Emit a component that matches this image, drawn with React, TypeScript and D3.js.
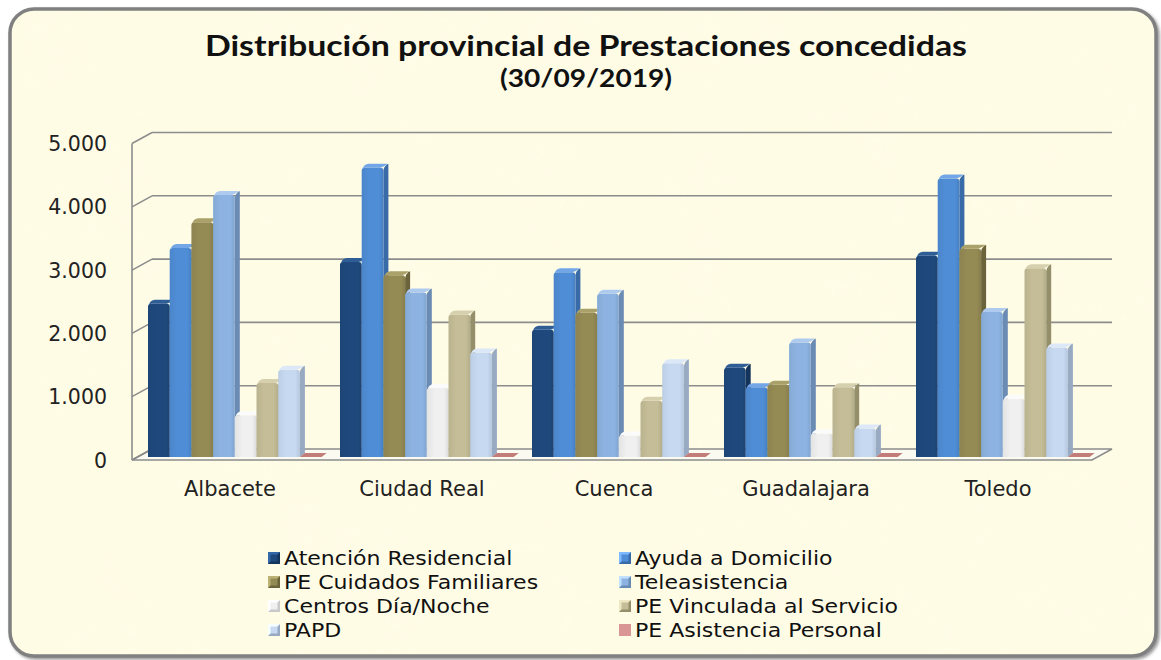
import React from "react";
import * as d3 from "d3";

const categories = ["Albacete", "Ciudad Real", "Cuenca", "Guadalajara", "Toledo"];
const seriesNames = [
  "Atención Residencial",
  "Ayuda a Domicilio",
  "PE Cuidados Familiares",
  "Teleasistencia",
  "Centros Día/Noche",
  "PE Vinculada al Servicio",
  "PAPD",
  "PE Asistencia Personal",
];
const atencionResidencial = [2420, 3080, 2010, 1410, 3180];
const ayudaDomicilio = [3300, 4570, 2920, 1100, 4400];
const cuidadosFamiliares = [3710, 2870, 2280, 1140, 3290];
const teleasistencia = [4140, 2600, 2580, 1810, 2290];
const centrosDiaNoche = [660, 1090, 340, 370, 920];
const vinculadaServicio = [1170, 2250, 890, 1100, 2980];
const papd = [1380, 1650, 1480, 450, 1730];
const asistenciaPersonal = [4, 3, 2, 2, 5];
const seriesValues = [
  atencionResidencial,
  ayudaDomicilio,
  cuidadosFamiliares,
  teleasistencia,
  centrosDiaNoche,
  vinculadaServicio,
  papd,
  asistenciaPersonal,
];
const yTicks = [0, 1000, 2000, 3000, 4000, 5000];

const palette = [
  { front: "#1F497D", side: "#15345B", top: "#2F5E96" },
  { front: "#4F8DD6", side: "#386BA8", top: "#72A6E6" },
  { front: "#948A54", side: "#6B633A", top: "#AAA06A" },
  { front: "#8DB3E2", side: "#6A8BB3", top: "#AECAEE" },
  { front: "#F0F0F0", side: "#C9C9C9", top: "#FBFBFB" },
  { front: "#C4BD97", side: "#958E6A", top: "#D6D0AF" },
  { front: "#C6D9F1", side: "#98A9C2", top: "#DCE8F8" },
  { front: "#C27C7A", side: "#A25E5C", top: "#C98684" },
];

const fmt = (v: number) => (v === 0 ? "0" : d3.format(",")(v).replace(/,/g, "."));

export default function App() {
  const backLeft = 152;
  const backRight = 1112;
  const ddx = -20;
  const ddy = 11;
  const yBack = d3.scaleLinear().domain([0, 5000]).range([449, 132.5]);
  const barDy = 8;
  const yBar = (v: number) => yBack(v) + barDy;
  const frontLeft = backLeft + ddx;
  const frontRight = backRight + ddx;
  const x0 = d3
    .scaleBand<string>()
    .domain(categories)
    .range([frontLeft + 5.4, frontRight + 5.4])
    .padding(0);
  const x1 = d3
    .scaleBand<string>()
    .domain(seriesNames)
    .range([10.6, 10.6 + 173.6])
    .padding(0);
  const sideW = 5;
  const topH = 4;

  const bars: React.ReactNode[] = [];
  categories.forEach((c, ci) => {
    seriesNames.forEach((s, si) => {
      const v = seriesValues[si][ci];
      const col = palette[si];
      const x = (x0(c) as number) + (x1(s) as number);
      const w = x1.bandwidth();
      const yb = yBar(0);
      const yt = yBar(v);
      const h = yb - yt;
      const key = `${ci}-${si}`;
      if (h < 2) {
        bars.push(
          <path
            key={key}
            d={`M${x},${yb} L${x + w},${yb} L${x + w + sideW},${yb - topH} L${x + sideW},${yb - topH} Z`}
            fill={col.front}
          />
        );
        return;
      }
      const r = 3;
      bars.push(
        <g key={key}>
          <path
            d={`M${x + w},${yb} L${x + w},${yt + r} Q${x + w},${yt} ${x + w + r},${yt - topH + 1} L${x + w + sideW},${yt - topH} L${x + w + sideW},${yb - topH} Z`}
            fill={col.side}
          />
          <path
            d={`M${x},${yb} L${x},${yt + r} Q${x},${yt} ${x + r},${yt} L${x + w - r},${yt} Q${x + w},${yt} ${x + w},${yt + r} L${x + w},${yb} Z`}
            fill={`url(#gf${si})`}
          />
          <path
            d={`M${x + 1},${yt + 1} Q${x + 2},${yt - topH + 0.5} ${x + sideW + 2},${yt - topH} L${x + w + sideW - 1},${yt - topH} Q${x + w + 1},${yt - 1} ${x + w - r},${yt} L${x + r},${yt} Z`}
            fill={col.top}
          />
        </g>
      );
    });
  });

  const legendRows = [558, 582, 606, 630];
  const legendCols = [{ sx: 268, tx: 284 }, { sx: 619, tx: 635 }];

  return (
    <svg
      width={1161}
      height={660}
      style={{ position: "absolute", left: 0, top: 0 }}
      xmlns="http://www.w3.org/2000/svg"
    >
      <defs>
        <filter id="shadow" x="-5%" y="-5%" width="110%" height="110%">
          <feDropShadow dx="2" dy="2" stdDeviation="1.5" floodColor="#555" floodOpacity="0.6" />
        </filter>
        <filter id="mottle" x="0" y="0" width="100%" height="100%">
          <feTurbulence type="fractalNoise" baseFrequency="0.012" numOctaves="3" seed="4" result="n" />
          <feColorMatrix
            in="n"
            type="matrix"
            values="0 0 0 0 0.99  0 0 0 0 0.94  0 0 0 0 0.80  0 0 0 -1.1 0.55"
            result="c"
          />
          <feComposite in="c" in2="SourceGraphic" operator="in" />
        </filter>
        {palette.map((p, i) => (
          <linearGradient key={i} id={`gf${i}`} x1="0" x2="1" y1="0" y2="0">
            <stop offset="0" stopColor={d3.color(p.front)!.darker(0.15).toString()} />
            <stop offset="0.35" stopColor={p.front} />
            <stop offset="0.8" stopColor={p.front} />
            <stop offset="1" stopColor={d3.color(p.front)!.darker(0.25).toString()} />
          </linearGradient>
        ))}
      </defs>
      <rect width={1161} height={660} fill="#ffffff" />
      <rect x={10} y={9} width={1146} height={647} rx={24} fill="#FFFCE6" stroke="#808080" strokeWidth={3.5} filter="url(#shadow)" />
      <rect x={12} y={11} width={1142} height={643} rx={22} fill="#fff" filter="url(#mottle)" opacity={0.4} />

      {/* title */}
      <text x={586} y={56} textAnchor="middle" fontFamily="Lato, 'Open Sans', sans-serif" fontWeight="bold" fontSize={28} fill="#111" textLength={762} lengthAdjust="spacingAndGlyphs">
        Distribución provincial de Prestaciones concedidas
      </text>
      <text x={586} y={87} textAnchor="middle" fontFamily="Lato, 'Open Sans', sans-serif" fontWeight="bold" fontSize={25} fill="#111" textLength={172} lengthAdjust="spacingAndGlyphs">
        (30/09/2019)
      </text>

      {/* floor */}
      <path
        d={`M${frontLeft},${yBack(0) + ddy} L${backLeft},${yBack(0)} L${backRight},${yBack(0)} L${frontRight},${yBack(0) + ddy} Z`}
        fill="#FBFAF0"
        stroke="#8C8C8C"
        strokeWidth={1.5}
      />
      {yTicks.map((t) => (
        <g key={t}>
          {t > 0 && <line x1={backLeft} x2={backRight} y1={yBack(t)} y2={yBack(t)} stroke="#8C8C8C" strokeWidth={1.6} />}
          <line x1={frontLeft} x2={backLeft} y1={yBack(t) + ddy} y2={yBack(t)} stroke="#8C8C8C" strokeWidth={1.5} />
        </g>
      ))}
      <line x1={frontLeft} x2={frontLeft} y1={yBack(5000) + ddy} y2={yBack(0) + ddy} stroke="#8C8C8C" strokeWidth={1.6} />

      {bars}

      {/* y labels */}
      {yTicks.map((t) => (
        <text key={t} x={107} y={yBack(t) + ddy + 7.5} textAnchor="end" fontFamily="'DejaVu Sans', Verdana, sans-serif" fontSize={20.5} fill="#222">
          {fmt(t)}
        </text>
      ))}
      {/* category labels */}
      {categories.map((c) => (
        <text key={c} x={(x0(c) as number) - 5.4 + x0.bandwidth() / 2 + 2} y={496} textAnchor="middle" fontFamily="'DejaVu Sans', Verdana, sans-serif" fontSize={21} fill="#222">
          {c}
        </text>
      ))}

      {/* legend */}
      {seriesNames.map((s, i) => {
        const row = legendRows[Math.floor(i / 2)];
        const col = legendCols[i % 2];
        const p = palette[i];
        return (
          <g key={s}>
            {i === 7 ? (
              <rect x={col.sx} y={row - 6} width={12} height={12} fill="#D99694" />
            ) : (
              <g>
                <rect x={col.sx} y={row - 6} width={12} height={12} fill={d3.color(p.top)!.brighter(0.3).toString()} />
                <path d={`M${col.sx + 12},${row - 6} L${col.sx + 12},${row + 6} L${col.sx},${row + 6} Z`} fill={p.side} />
                <rect x={col.sx + 2.5} y={row - 3.5} width={7} height={7} fill={p.front} />
              </g>
            )}
            <text
              transform={`translate(${col.tx},${row + 7}) scale(1.16,1)`}
              fontFamily="'DejaVu Sans', Verdana, sans-serif"
              fontSize={19}
              fill="#111"
            >
              {s}
            </text>
          </g>
        );
      })}
    </svg>
  );
}
